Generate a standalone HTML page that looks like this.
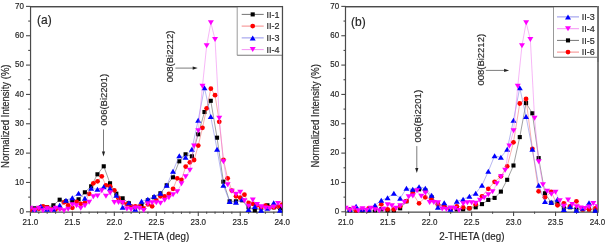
<!DOCTYPE html>
<html><head><meta charset="utf-8"><style>
html,body{margin:0;padding:0;background:#fff;width:606px;height:245px;overflow:hidden}
svg{display:block;font-family:"Liberation Sans",sans-serif;will-change:transform}
</style></head><body>
<svg width="606" height="245" viewBox="0 0 606 245" font-family="Liberation Sans, sans-serif">
<path d="M30.55 212.10L30.55 6.55L282.45 6.55M30.55 212.10L282.45 212.10" fill="none" stroke="#4a4a4a" stroke-width="1.2"/><line x1="282.45" y1="5.95" x2="282.45" y2="212.70" stroke="#4a4a4a" stroke-width="1.2"/>
<line x1="26.00" y1="211.80" x2="30.4" y2="211.80" stroke="#4a4a4a" stroke-width="1.1"/>
<text transform="translate(23.90,214.10) scale(1,1.2)" font-size="8" text-anchor="end" stroke="#333" stroke-width="0.18" fill="#222">0</text>
<line x1="28.20" y1="197.13" x2="30.4" y2="197.13" stroke="#4a4a4a" stroke-width="1.1"/>
<line x1="26.00" y1="182.46" x2="30.4" y2="182.46" stroke="#4a4a4a" stroke-width="1.1"/>
<text transform="translate(23.90,184.76) scale(1,1.2)" font-size="8" text-anchor="end" stroke="#333" stroke-width="0.18" fill="#222">10</text>
<line x1="28.20" y1="167.79" x2="30.4" y2="167.79" stroke="#4a4a4a" stroke-width="1.1"/>
<line x1="26.00" y1="153.11" x2="30.4" y2="153.11" stroke="#4a4a4a" stroke-width="1.1"/>
<text transform="translate(23.90,155.41) scale(1,1.2)" font-size="8" text-anchor="end" stroke="#333" stroke-width="0.18" fill="#222">20</text>
<line x1="28.20" y1="138.44" x2="30.4" y2="138.44" stroke="#4a4a4a" stroke-width="1.1"/>
<line x1="26.00" y1="123.77" x2="30.4" y2="123.77" stroke="#4a4a4a" stroke-width="1.1"/>
<text transform="translate(23.90,126.07) scale(1,1.2)" font-size="8" text-anchor="end" stroke="#333" stroke-width="0.18" fill="#222">30</text>
<line x1="28.20" y1="109.10" x2="30.4" y2="109.10" stroke="#4a4a4a" stroke-width="1.1"/>
<line x1="26.00" y1="94.43" x2="30.4" y2="94.43" stroke="#4a4a4a" stroke-width="1.1"/>
<text transform="translate(23.90,96.73) scale(1,1.2)" font-size="8" text-anchor="end" stroke="#333" stroke-width="0.18" fill="#222">40</text>
<line x1="28.20" y1="79.76" x2="30.4" y2="79.76" stroke="#4a4a4a" stroke-width="1.1"/>
<line x1="26.00" y1="65.09" x2="30.4" y2="65.09" stroke="#4a4a4a" stroke-width="1.1"/>
<text transform="translate(23.90,67.39) scale(1,1.2)" font-size="8" text-anchor="end" stroke="#333" stroke-width="0.18" fill="#222">50</text>
<line x1="28.20" y1="50.41" x2="30.4" y2="50.41" stroke="#4a4a4a" stroke-width="1.1"/>
<line x1="26.00" y1="35.74" x2="30.4" y2="35.74" stroke="#4a4a4a" stroke-width="1.1"/>
<text transform="translate(23.90,38.04) scale(1,1.2)" font-size="8" text-anchor="end" stroke="#333" stroke-width="0.18" fill="#222">60</text>
<line x1="28.20" y1="21.07" x2="30.4" y2="21.07" stroke="#4a4a4a" stroke-width="1.1"/>
<line x1="26.00" y1="6.40" x2="30.4" y2="6.40" stroke="#4a4a4a" stroke-width="1.1"/>
<text transform="translate(23.90,8.70) scale(1,1.2)" font-size="8" text-anchor="end" stroke="#333" stroke-width="0.18" fill="#222">70</text>
<line x1="30.40" y1="211.8" x2="30.40" y2="216.00" stroke="#4a4a4a" stroke-width="1.1"/>
<text transform="translate(30.40,224.90) scale(1,1.2)" font-size="8" text-anchor="middle" stroke="#333" stroke-width="0.18" fill="#222">21.0</text>
<line x1="38.79" y1="211.8" x2="38.79" y2="213.80" stroke="#4a4a4a" stroke-width="1.1"/>
<line x1="47.19" y1="211.8" x2="47.19" y2="213.80" stroke="#4a4a4a" stroke-width="1.1"/>
<line x1="55.58" y1="211.8" x2="55.58" y2="213.80" stroke="#4a4a4a" stroke-width="1.1"/>
<line x1="63.97" y1="211.8" x2="63.97" y2="213.80" stroke="#4a4a4a" stroke-width="1.1"/>
<line x1="72.37" y1="211.8" x2="72.37" y2="216.00" stroke="#4a4a4a" stroke-width="1.1"/>
<text transform="translate(72.37,224.90) scale(1,1.2)" font-size="8" text-anchor="middle" stroke="#333" stroke-width="0.18" fill="#222">21.5</text>
<line x1="80.76" y1="211.8" x2="80.76" y2="213.80" stroke="#4a4a4a" stroke-width="1.1"/>
<line x1="89.15" y1="211.8" x2="89.15" y2="213.80" stroke="#4a4a4a" stroke-width="1.1"/>
<line x1="97.55" y1="211.8" x2="97.55" y2="213.80" stroke="#4a4a4a" stroke-width="1.1"/>
<line x1="105.94" y1="211.8" x2="105.94" y2="213.80" stroke="#4a4a4a" stroke-width="1.1"/>
<line x1="114.33" y1="211.8" x2="114.33" y2="216.00" stroke="#4a4a4a" stroke-width="1.1"/>
<text transform="translate(114.33,224.90) scale(1,1.2)" font-size="8" text-anchor="middle" stroke="#333" stroke-width="0.18" fill="#222">22.0</text>
<line x1="122.73" y1="211.8" x2="122.73" y2="213.80" stroke="#4a4a4a" stroke-width="1.1"/>
<line x1="131.12" y1="211.8" x2="131.12" y2="213.80" stroke="#4a4a4a" stroke-width="1.1"/>
<line x1="139.51" y1="211.8" x2="139.51" y2="213.80" stroke="#4a4a4a" stroke-width="1.1"/>
<line x1="147.91" y1="211.8" x2="147.91" y2="213.80" stroke="#4a4a4a" stroke-width="1.1"/>
<line x1="156.30" y1="211.8" x2="156.30" y2="216.00" stroke="#4a4a4a" stroke-width="1.1"/>
<text transform="translate(156.30,224.90) scale(1,1.2)" font-size="8" text-anchor="middle" stroke="#333" stroke-width="0.18" fill="#222">22.5</text>
<line x1="164.69" y1="211.8" x2="164.69" y2="213.80" stroke="#4a4a4a" stroke-width="1.1"/>
<line x1="173.09" y1="211.8" x2="173.09" y2="213.80" stroke="#4a4a4a" stroke-width="1.1"/>
<line x1="181.48" y1="211.8" x2="181.48" y2="213.80" stroke="#4a4a4a" stroke-width="1.1"/>
<line x1="189.87" y1="211.8" x2="189.87" y2="213.80" stroke="#4a4a4a" stroke-width="1.1"/>
<line x1="198.27" y1="211.8" x2="198.27" y2="216.00" stroke="#4a4a4a" stroke-width="1.1"/>
<text transform="translate(198.27,224.90) scale(1,1.2)" font-size="8" text-anchor="middle" stroke="#333" stroke-width="0.18" fill="#222">23.0</text>
<line x1="206.66" y1="211.8" x2="206.66" y2="213.80" stroke="#4a4a4a" stroke-width="1.1"/>
<line x1="215.05" y1="211.8" x2="215.05" y2="213.80" stroke="#4a4a4a" stroke-width="1.1"/>
<line x1="223.45" y1="211.8" x2="223.45" y2="213.80" stroke="#4a4a4a" stroke-width="1.1"/>
<line x1="231.84" y1="211.8" x2="231.84" y2="213.80" stroke="#4a4a4a" stroke-width="1.1"/>
<line x1="240.23" y1="211.8" x2="240.23" y2="216.00" stroke="#4a4a4a" stroke-width="1.1"/>
<text transform="translate(240.23,224.90) scale(1,1.2)" font-size="8" text-anchor="middle" stroke="#333" stroke-width="0.18" fill="#222">23.5</text>
<line x1="248.63" y1="211.8" x2="248.63" y2="213.80" stroke="#4a4a4a" stroke-width="1.1"/>
<line x1="257.02" y1="211.8" x2="257.02" y2="213.80" stroke="#4a4a4a" stroke-width="1.1"/>
<line x1="265.41" y1="211.8" x2="265.41" y2="213.80" stroke="#4a4a4a" stroke-width="1.1"/>
<line x1="273.81" y1="211.8" x2="273.81" y2="213.80" stroke="#4a4a4a" stroke-width="1.1"/>
<line x1="282.20" y1="211.8" x2="282.20" y2="216.00" stroke="#4a4a4a" stroke-width="1.1"/>
<text transform="translate(282.20,224.90) scale(1,1.2)" font-size="8" text-anchor="middle" stroke="#333" stroke-width="0.18" fill="#222">24.0</text>
<text transform="translate(156.60,239.50) scale(1,1.12)" font-size="9.8" text-anchor="middle" stroke="#333" stroke-width="0.18" fill="#222">2-THETA (deg)</text>
<path d="M345.50 212.10L345.50 6.55L598.00 6.55M345.50 212.10L598.00 212.10" fill="none" stroke="#4a4a4a" stroke-width="1.2"/><line x1="598.00" y1="5.95" x2="598.00" y2="212.70" stroke="#707070" stroke-width="1.8"/>
<line x1="341.30" y1="211.80" x2="345.7" y2="211.80" stroke="#4a4a4a" stroke-width="1.1"/>
<text transform="translate(339.20,214.10) scale(1,1.2)" font-size="8" text-anchor="end" stroke="#333" stroke-width="0.18" fill="#222">0</text>
<line x1="343.50" y1="197.13" x2="345.7" y2="197.13" stroke="#4a4a4a" stroke-width="1.1"/>
<line x1="341.30" y1="182.46" x2="345.7" y2="182.46" stroke="#4a4a4a" stroke-width="1.1"/>
<text transform="translate(339.20,184.76) scale(1,1.2)" font-size="8" text-anchor="end" stroke="#333" stroke-width="0.18" fill="#222">10</text>
<line x1="343.50" y1="167.79" x2="345.7" y2="167.79" stroke="#4a4a4a" stroke-width="1.1"/>
<line x1="341.30" y1="153.11" x2="345.7" y2="153.11" stroke="#4a4a4a" stroke-width="1.1"/>
<text transform="translate(339.20,155.41) scale(1,1.2)" font-size="8" text-anchor="end" stroke="#333" stroke-width="0.18" fill="#222">20</text>
<line x1="343.50" y1="138.44" x2="345.7" y2="138.44" stroke="#4a4a4a" stroke-width="1.1"/>
<line x1="341.30" y1="123.77" x2="345.7" y2="123.77" stroke="#4a4a4a" stroke-width="1.1"/>
<text transform="translate(339.20,126.07) scale(1,1.2)" font-size="8" text-anchor="end" stroke="#333" stroke-width="0.18" fill="#222">30</text>
<line x1="343.50" y1="109.10" x2="345.7" y2="109.10" stroke="#4a4a4a" stroke-width="1.1"/>
<line x1="341.30" y1="94.43" x2="345.7" y2="94.43" stroke="#4a4a4a" stroke-width="1.1"/>
<text transform="translate(339.20,96.73) scale(1,1.2)" font-size="8" text-anchor="end" stroke="#333" stroke-width="0.18" fill="#222">40</text>
<line x1="343.50" y1="79.76" x2="345.7" y2="79.76" stroke="#4a4a4a" stroke-width="1.1"/>
<line x1="341.30" y1="65.09" x2="345.7" y2="65.09" stroke="#4a4a4a" stroke-width="1.1"/>
<text transform="translate(339.20,67.39) scale(1,1.2)" font-size="8" text-anchor="end" stroke="#333" stroke-width="0.18" fill="#222">50</text>
<line x1="343.50" y1="50.41" x2="345.7" y2="50.41" stroke="#4a4a4a" stroke-width="1.1"/>
<line x1="341.30" y1="35.74" x2="345.7" y2="35.74" stroke="#4a4a4a" stroke-width="1.1"/>
<text transform="translate(339.20,38.04) scale(1,1.2)" font-size="8" text-anchor="end" stroke="#333" stroke-width="0.18" fill="#222">60</text>
<line x1="343.50" y1="21.07" x2="345.7" y2="21.07" stroke="#4a4a4a" stroke-width="1.1"/>
<line x1="341.30" y1="6.40" x2="345.7" y2="6.40" stroke="#4a4a4a" stroke-width="1.1"/>
<text transform="translate(339.20,8.70) scale(1,1.2)" font-size="8" text-anchor="end" stroke="#333" stroke-width="0.18" fill="#222">70</text>
<line x1="345.70" y1="211.8" x2="345.70" y2="216.00" stroke="#4a4a4a" stroke-width="1.1"/>
<text transform="translate(345.70,224.90) scale(1,1.2)" font-size="8" text-anchor="middle" stroke="#333" stroke-width="0.18" fill="#222">21.0</text>
<line x1="366.68" y1="211.8" x2="366.68" y2="213.80" stroke="#4a4a4a" stroke-width="1.1"/>
<line x1="387.67" y1="211.8" x2="387.67" y2="216.00" stroke="#4a4a4a" stroke-width="1.1"/>
<text transform="translate(387.67,224.90) scale(1,1.2)" font-size="8" text-anchor="middle" stroke="#333" stroke-width="0.18" fill="#222">21.5</text>
<line x1="408.65" y1="211.8" x2="408.65" y2="213.80" stroke="#4a4a4a" stroke-width="1.1"/>
<line x1="429.63" y1="211.8" x2="429.63" y2="216.00" stroke="#4a4a4a" stroke-width="1.1"/>
<text transform="translate(429.63,224.90) scale(1,1.2)" font-size="8" text-anchor="middle" stroke="#333" stroke-width="0.18" fill="#222">22.0</text>
<line x1="450.62" y1="211.8" x2="450.62" y2="213.80" stroke="#4a4a4a" stroke-width="1.1"/>
<line x1="471.60" y1="211.8" x2="471.60" y2="216.00" stroke="#4a4a4a" stroke-width="1.1"/>
<text transform="translate(471.60,224.90) scale(1,1.2)" font-size="8" text-anchor="middle" stroke="#333" stroke-width="0.18" fill="#222">22.5</text>
<line x1="492.58" y1="211.8" x2="492.58" y2="213.80" stroke="#4a4a4a" stroke-width="1.1"/>
<line x1="513.57" y1="211.8" x2="513.57" y2="216.00" stroke="#4a4a4a" stroke-width="1.1"/>
<text transform="translate(513.57,224.90) scale(1,1.2)" font-size="8" text-anchor="middle" stroke="#333" stroke-width="0.18" fill="#222">23.0</text>
<line x1="534.55" y1="211.8" x2="534.55" y2="213.80" stroke="#4a4a4a" stroke-width="1.1"/>
<line x1="555.53" y1="211.8" x2="555.53" y2="216.00" stroke="#4a4a4a" stroke-width="1.1"/>
<text transform="translate(555.53,224.90) scale(1,1.2)" font-size="8" text-anchor="middle" stroke="#333" stroke-width="0.18" fill="#222">23.5</text>
<line x1="576.52" y1="211.8" x2="576.52" y2="213.80" stroke="#4a4a4a" stroke-width="1.1"/>
<line x1="597.50" y1="211.8" x2="597.50" y2="216.00" stroke="#4a4a4a" stroke-width="1.1"/>
<text transform="translate(597.50,224.90) scale(1,1.2)" font-size="8" text-anchor="middle" stroke="#333" stroke-width="0.18" fill="#222">24.0</text>
<text transform="translate(471.90,239.50) scale(1,1.12)" font-size="9.8" text-anchor="middle" stroke="#333" stroke-width="0.18" fill="#222">2-THETA (deg)</text>
<text transform="translate(9.40,116.20) rotate(-90) scale(1,1.12)" font-size="9.5" text-anchor="middle" stroke="#333" stroke-width="0.18" fill="#222">Normalized Intensity (%)</text>
<text transform="translate(318.80,115.90) rotate(-90) scale(1,1.12)" font-size="9.5" text-anchor="middle" stroke="#333" stroke-width="0.18" fill="#222">Normalized Intensity (%)</text>
<defs><clipPath id="ca"><rect x="30.4" y="6.4" width="251.80" height="209.40"/></clipPath><clipPath id="cb"><rect x="345.7" y="6.4" width="251.80" height="209.40"/></clipPath></defs>
<g clip-path="url(#ca)"><path d="M34.50 208.30 L40.80 207.30 L47.09 207.30 L53.38 205.30 L59.68 199.70 L65.97 201.30 L72.27 201.10 L78.56 199.30 L84.86 192.30 L91.16 186.30 L97.45 174.30 L103.75 166.30 L110.04 183.30 L116.33 193.70 L122.63 198.30 L128.93 203.30 L135.22 207.30 L141.51 205.30 L147.81 200.30 L154.11 197.30 L160.40 193.30 L166.69 185.30 L172.99 177.30 L179.28 161.30 L185.58 154.30 L191.88 156.30 L198.17 134.30 L204.47 112.00 L210.76 100.80 L217.06 137.70 L223.35 181.70 L229.65 201.30 L235.94 201.30 L242.23 200.30 L248.53 207.30 L254.82 210.30 L261.12 208.30 L267.41 205.30 L273.71 207.30 L280.00 208.30" fill="none" stroke="#505050" stroke-width="0.55"/>
<rect x="32.45" y="206.25" width="4.1" height="4.1" fill="#000000"/>
<rect x="38.75" y="205.25" width="4.1" height="4.1" fill="#000000"/>
<rect x="45.04" y="205.25" width="4.1" height="4.1" fill="#000000"/>
<rect x="51.34" y="203.25" width="4.1" height="4.1" fill="#000000"/>
<rect x="57.63" y="197.65" width="4.1" height="4.1" fill="#000000"/>
<rect x="63.92" y="199.25" width="4.1" height="4.1" fill="#000000"/>
<rect x="70.22" y="199.05" width="4.1" height="4.1" fill="#000000"/>
<rect x="76.52" y="197.25" width="4.1" height="4.1" fill="#000000"/>
<rect x="82.81" y="190.25" width="4.1" height="4.1" fill="#000000"/>
<rect x="89.11" y="184.25" width="4.1" height="4.1" fill="#000000"/>
<rect x="95.40" y="172.25" width="4.1" height="4.1" fill="#000000"/>
<rect x="101.70" y="164.25" width="4.1" height="4.1" fill="#000000"/>
<rect x="107.99" y="181.25" width="4.1" height="4.1" fill="#000000"/>
<rect x="114.28" y="191.65" width="4.1" height="4.1" fill="#000000"/>
<rect x="120.58" y="196.25" width="4.1" height="4.1" fill="#000000"/>
<rect x="126.88" y="201.25" width="4.1" height="4.1" fill="#000000"/>
<rect x="133.17" y="205.25" width="4.1" height="4.1" fill="#000000"/>
<rect x="139.46" y="203.25" width="4.1" height="4.1" fill="#000000"/>
<rect x="145.76" y="198.25" width="4.1" height="4.1" fill="#000000"/>
<rect x="152.06" y="195.25" width="4.1" height="4.1" fill="#000000"/>
<rect x="158.35" y="191.25" width="4.1" height="4.1" fill="#000000"/>
<rect x="164.64" y="183.25" width="4.1" height="4.1" fill="#000000"/>
<rect x="170.94" y="175.25" width="4.1" height="4.1" fill="#000000"/>
<rect x="177.23" y="159.25" width="4.1" height="4.1" fill="#000000"/>
<rect x="183.53" y="152.25" width="4.1" height="4.1" fill="#000000"/>
<rect x="189.82" y="154.25" width="4.1" height="4.1" fill="#000000"/>
<rect x="196.12" y="132.25" width="4.1" height="4.1" fill="#000000"/>
<rect x="202.41" y="109.95" width="4.1" height="4.1" fill="#000000"/>
<rect x="208.71" y="98.75" width="4.1" height="4.1" fill="#000000"/>
<rect x="215.00" y="135.65" width="4.1" height="4.1" fill="#000000"/>
<rect x="221.30" y="179.65" width="4.1" height="4.1" fill="#000000"/>
<rect x="227.59" y="199.25" width="4.1" height="4.1" fill="#000000"/>
<rect x="233.89" y="199.25" width="4.1" height="4.1" fill="#000000"/>
<rect x="240.18" y="198.25" width="4.1" height="4.1" fill="#000000"/>
<rect x="246.48" y="205.25" width="4.1" height="4.1" fill="#000000"/>
<rect x="252.77" y="208.25" width="4.1" height="4.1" fill="#000000"/>
<rect x="259.07" y="206.25" width="4.1" height="4.1" fill="#000000"/>
<rect x="265.36" y="203.25" width="4.1" height="4.1" fill="#000000"/>
<rect x="271.66" y="205.25" width="4.1" height="4.1" fill="#000000"/>
<rect x="277.95" y="206.25" width="4.1" height="4.1" fill="#000000"/>
<path d="M30.40 209.80 L34.60 209.30 L38.79 208.80 L42.99 206.30 L47.19 207.30 L51.38 209.30 L55.58 209.30 L59.78 208.30 L63.97 202.30 L68.17 205.30 L72.37 207.80 L76.56 201.80 L80.76 203.80 L84.96 202.80 L89.15 193.80 L93.35 183.30 L97.55 181.30 L101.74 176.30 L105.94 185.30 L110.14 186.30 L114.33 190.30 L118.53 198.30 L122.73 202.30 L126.92 204.30 L131.12 206.30 L135.32 206.30 L139.51 206.30 L143.71 208.30 L147.91 204.30 L152.10 206.30 L156.30 200.30 L160.50 196.30 L164.69 196.30 L168.89 193.80 L173.09 188.80 L177.28 178.30 L181.48 179.80 L185.68 166.60 L189.87 162.30 L194.07 160.00 L198.27 145.60 L202.46 127.80 L206.66 108.30 L210.86 88.70 L215.05 95.20 L219.25 121.80 L223.45 159.80 L227.64 178.30 L231.84 190.60 L236.04 196.30 L240.23 197.70 L244.43 194.70 L248.63 203.00 L252.82 203.80 L257.02 205.30 L261.22 207.60 L265.41 205.60 L269.61 207.30 L273.81 207.30 L278.00 206.60 L282.20 204.70" fill="none" stroke="#f26a6a" stroke-width="0.55"/>
<circle cx="30.40" cy="209.80" r="2.4" fill="#ff0000"/>
<circle cx="34.60" cy="209.30" r="2.4" fill="#ff0000"/>
<circle cx="38.79" cy="208.80" r="2.4" fill="#ff0000"/>
<circle cx="42.99" cy="206.30" r="2.4" fill="#ff0000"/>
<circle cx="47.19" cy="207.30" r="2.4" fill="#ff0000"/>
<circle cx="51.38" cy="209.30" r="2.4" fill="#ff0000"/>
<circle cx="55.58" cy="209.30" r="2.4" fill="#ff0000"/>
<circle cx="59.78" cy="208.30" r="2.4" fill="#ff0000"/>
<circle cx="63.97" cy="202.30" r="2.4" fill="#ff0000"/>
<circle cx="68.17" cy="205.30" r="2.4" fill="#ff0000"/>
<circle cx="72.37" cy="207.80" r="2.4" fill="#ff0000"/>
<circle cx="76.56" cy="201.80" r="2.4" fill="#ff0000"/>
<circle cx="80.76" cy="203.80" r="2.4" fill="#ff0000"/>
<circle cx="84.96" cy="202.80" r="2.4" fill="#ff0000"/>
<circle cx="89.15" cy="193.80" r="2.4" fill="#ff0000"/>
<circle cx="93.35" cy="183.30" r="2.4" fill="#ff0000"/>
<circle cx="97.55" cy="181.30" r="2.4" fill="#ff0000"/>
<circle cx="101.74" cy="176.30" r="2.4" fill="#ff0000"/>
<circle cx="105.94" cy="185.30" r="2.4" fill="#ff0000"/>
<circle cx="110.14" cy="186.30" r="2.4" fill="#ff0000"/>
<circle cx="114.33" cy="190.30" r="2.4" fill="#ff0000"/>
<circle cx="118.53" cy="198.30" r="2.4" fill="#ff0000"/>
<circle cx="122.73" cy="202.30" r="2.4" fill="#ff0000"/>
<circle cx="126.92" cy="204.30" r="2.4" fill="#ff0000"/>
<circle cx="131.12" cy="206.30" r="2.4" fill="#ff0000"/>
<circle cx="135.32" cy="206.30" r="2.4" fill="#ff0000"/>
<circle cx="139.51" cy="206.30" r="2.4" fill="#ff0000"/>
<circle cx="143.71" cy="208.30" r="2.4" fill="#ff0000"/>
<circle cx="147.91" cy="204.30" r="2.4" fill="#ff0000"/>
<circle cx="152.10" cy="206.30" r="2.4" fill="#ff0000"/>
<circle cx="156.30" cy="200.30" r="2.4" fill="#ff0000"/>
<circle cx="160.50" cy="196.30" r="2.4" fill="#ff0000"/>
<circle cx="164.69" cy="196.30" r="2.4" fill="#ff0000"/>
<circle cx="168.89" cy="193.80" r="2.4" fill="#ff0000"/>
<circle cx="173.09" cy="188.80" r="2.4" fill="#ff0000"/>
<circle cx="177.28" cy="178.30" r="2.4" fill="#ff0000"/>
<circle cx="181.48" cy="179.80" r="2.4" fill="#ff0000"/>
<circle cx="185.68" cy="166.60" r="2.4" fill="#ff0000"/>
<circle cx="189.87" cy="162.30" r="2.4" fill="#ff0000"/>
<circle cx="194.07" cy="160.00" r="2.4" fill="#ff0000"/>
<circle cx="198.27" cy="145.60" r="2.4" fill="#ff0000"/>
<circle cx="202.46" cy="127.80" r="2.4" fill="#ff0000"/>
<circle cx="206.66" cy="108.30" r="2.4" fill="#ff0000"/>
<circle cx="210.86" cy="88.70" r="2.4" fill="#ff0000"/>
<circle cx="215.05" cy="95.20" r="2.4" fill="#ff0000"/>
<circle cx="219.25" cy="121.80" r="2.4" fill="#ff0000"/>
<circle cx="223.45" cy="159.80" r="2.4" fill="#ff0000"/>
<circle cx="227.64" cy="178.30" r="2.4" fill="#ff0000"/>
<circle cx="231.84" cy="190.60" r="2.4" fill="#ff0000"/>
<circle cx="236.04" cy="196.30" r="2.4" fill="#ff0000"/>
<circle cx="240.23" cy="197.70" r="2.4" fill="#ff0000"/>
<circle cx="244.43" cy="194.70" r="2.4" fill="#ff0000"/>
<circle cx="248.63" cy="203.00" r="2.4" fill="#ff0000"/>
<circle cx="252.82" cy="203.80" r="2.4" fill="#ff0000"/>
<circle cx="257.02" cy="205.30" r="2.4" fill="#ff0000"/>
<circle cx="261.22" cy="207.60" r="2.4" fill="#ff0000"/>
<circle cx="265.41" cy="205.60" r="2.4" fill="#ff0000"/>
<circle cx="269.61" cy="207.30" r="2.4" fill="#ff0000"/>
<circle cx="273.81" cy="207.30" r="2.4" fill="#ff0000"/>
<circle cx="278.00" cy="206.60" r="2.4" fill="#ff0000"/>
<circle cx="282.20" cy="204.70" r="2.4" fill="#ff0000"/>
<path d="M34.50 209.30 L40.80 206.30 L47.09 209.30 L53.38 209.30 L59.68 205.30 L65.97 200.30 L72.27 197.80 L78.56 193.30 L84.86 198.30 L91.16 188.30 L97.45 189.30 L103.75 186.80 L110.04 188.30 L116.33 195.30 L122.63 207.30 L128.93 202.80 L135.22 209.30 L141.51 201.30 L147.81 199.30 L154.11 196.30 L160.40 193.30 L166.69 185.30 L172.99 171.30 L179.28 155.80 L185.58 157.30 L191.88 149.30 L198.17 120.30 L204.47 87.70 L210.76 116.60 L217.06 149.30 L223.35 185.30 L229.65 201.60 L235.94 202.30 L242.23 199.30 L248.53 209.60 L254.82 206.60 L261.12 210.30 L267.41 208.30 L273.71 202.80 L280.00 210.30" fill="none" stroke="#7a7ae6" stroke-width="0.55"/>
<path d="M34.50 206.80L37.50 211.80L31.50 211.80Z" fill="#0000ff"/>
<path d="M40.80 203.80L43.80 208.80L37.80 208.80Z" fill="#0000ff"/>
<path d="M47.09 206.80L50.09 211.80L44.09 211.80Z" fill="#0000ff"/>
<path d="M53.38 206.80L56.38 211.80L50.38 211.80Z" fill="#0000ff"/>
<path d="M59.68 202.80L62.68 207.80L56.68 207.80Z" fill="#0000ff"/>
<path d="M65.97 197.80L68.97 202.80L62.97 202.80Z" fill="#0000ff"/>
<path d="M72.27 195.30L75.27 200.30L69.27 200.30Z" fill="#0000ff"/>
<path d="M78.56 190.80L81.56 195.80L75.56 195.80Z" fill="#0000ff"/>
<path d="M84.86 195.80L87.86 200.80L81.86 200.80Z" fill="#0000ff"/>
<path d="M91.16 185.80L94.16 190.80L88.16 190.80Z" fill="#0000ff"/>
<path d="M97.45 186.80L100.45 191.80L94.45 191.80Z" fill="#0000ff"/>
<path d="M103.75 184.30L106.75 189.30L100.75 189.30Z" fill="#0000ff"/>
<path d="M110.04 185.80L113.04 190.80L107.04 190.80Z" fill="#0000ff"/>
<path d="M116.33 192.80L119.33 197.80L113.33 197.80Z" fill="#0000ff"/>
<path d="M122.63 204.80L125.63 209.80L119.63 209.80Z" fill="#0000ff"/>
<path d="M128.93 200.30L131.93 205.30L125.93 205.30Z" fill="#0000ff"/>
<path d="M135.22 206.80L138.22 211.80L132.22 211.80Z" fill="#0000ff"/>
<path d="M141.51 198.80L144.51 203.80L138.51 203.80Z" fill="#0000ff"/>
<path d="M147.81 196.80L150.81 201.80L144.81 201.80Z" fill="#0000ff"/>
<path d="M154.11 193.80L157.11 198.80L151.11 198.80Z" fill="#0000ff"/>
<path d="M160.40 190.80L163.40 195.80L157.40 195.80Z" fill="#0000ff"/>
<path d="M166.69 182.80L169.69 187.80L163.69 187.80Z" fill="#0000ff"/>
<path d="M172.99 168.80L175.99 173.80L169.99 173.80Z" fill="#0000ff"/>
<path d="M179.28 153.30L182.28 158.30L176.28 158.30Z" fill="#0000ff"/>
<path d="M185.58 154.80L188.58 159.80L182.58 159.80Z" fill="#0000ff"/>
<path d="M191.88 146.80L194.88 151.80L188.88 151.80Z" fill="#0000ff"/>
<path d="M198.17 117.80L201.17 122.80L195.17 122.80Z" fill="#0000ff"/>
<path d="M204.47 85.20L207.47 90.20L201.47 90.20Z" fill="#0000ff"/>
<path d="M210.76 114.10L213.76 119.10L207.76 119.10Z" fill="#0000ff"/>
<path d="M217.06 146.80L220.06 151.80L214.06 151.80Z" fill="#0000ff"/>
<path d="M223.35 182.80L226.35 187.80L220.35 187.80Z" fill="#0000ff"/>
<path d="M229.65 199.10L232.65 204.10L226.65 204.10Z" fill="#0000ff"/>
<path d="M235.94 199.80L238.94 204.80L232.94 204.80Z" fill="#0000ff"/>
<path d="M242.23 196.80L245.23 201.80L239.23 201.80Z" fill="#0000ff"/>
<path d="M248.53 207.10L251.53 212.10L245.53 212.10Z" fill="#0000ff"/>
<path d="M254.82 204.10L257.82 209.10L251.82 209.10Z" fill="#0000ff"/>
<path d="M261.12 207.80L264.12 212.80L258.12 212.80Z" fill="#0000ff"/>
<path d="M267.41 205.80L270.41 210.80L264.41 210.80Z" fill="#0000ff"/>
<path d="M273.71 200.30L276.71 205.30L270.71 205.30Z" fill="#0000ff"/>
<path d="M280.00 207.80L283.00 212.80L277.00 212.80Z" fill="#0000ff"/>
<path d="M30.40 208.30 L34.60 210.30 L38.79 208.30 L42.99 210.80 L47.19 208.80 L51.38 210.30 L55.58 208.30 L59.78 209.80 L63.97 210.80 L68.17 209.30 L72.37 204.80 L76.56 205.80 L80.76 208.30 L84.96 205.80 L89.15 202.20 L93.35 196.80 L97.55 196.10 L101.74 190.80 L105.94 196.20 L110.14 193.00 L114.33 202.60 L118.53 202.60 L122.73 202.80 L126.92 209.10 L131.12 209.60 L135.32 208.10 L139.51 208.60 L143.71 210.60 L147.91 203.70 L152.10 202.70 L156.30 202.70 L160.50 203.20 L164.69 200.20 L168.89 197.70 L173.09 194.80 L177.28 191.80 L181.48 183.80 L185.68 176.80 L189.87 170.30 L194.07 146.10 L198.27 130.80 L202.46 86.20 L206.66 45.70 L210.86 22.70 L215.05 39.50 L219.25 118.20 L223.45 161.80 L227.64 184.80 L231.84 191.30 L236.04 194.30 L240.23 192.20 L244.43 200.70 L248.63 206.30 L252.82 200.00 L257.02 204.60 L261.22 206.80 L265.41 208.10 L269.61 208.60 L273.81 207.10 L278.00 203.40 L282.20 206.80" fill="none" stroke="#f07af0" stroke-width="0.55"/>
<path d="M27.40 205.80L33.40 205.80L30.40 210.80Z" fill="#ff00ff"/>
<path d="M31.60 207.80L37.60 207.80L34.60 212.80Z" fill="#ff00ff"/>
<path d="M35.79 205.80L41.79 205.80L38.79 210.80Z" fill="#ff00ff"/>
<path d="M39.99 208.30L45.99 208.30L42.99 213.30Z" fill="#ff00ff"/>
<path d="M44.19 206.30L50.19 206.30L47.19 211.30Z" fill="#ff00ff"/>
<path d="M48.38 207.80L54.38 207.80L51.38 212.80Z" fill="#ff00ff"/>
<path d="M52.58 205.80L58.58 205.80L55.58 210.80Z" fill="#ff00ff"/>
<path d="M56.78 207.30L62.78 207.30L59.78 212.30Z" fill="#ff00ff"/>
<path d="M60.97 208.30L66.97 208.30L63.97 213.30Z" fill="#ff00ff"/>
<path d="M65.17 206.80L71.17 206.80L68.17 211.80Z" fill="#ff00ff"/>
<path d="M69.37 202.30L75.37 202.30L72.37 207.30Z" fill="#ff00ff"/>
<path d="M73.56 203.30L79.56 203.30L76.56 208.30Z" fill="#ff00ff"/>
<path d="M77.76 205.80L83.76 205.80L80.76 210.80Z" fill="#ff00ff"/>
<path d="M81.96 203.30L87.96 203.30L84.96 208.30Z" fill="#ff00ff"/>
<path d="M86.15 199.70L92.15 199.70L89.15 204.70Z" fill="#ff00ff"/>
<path d="M90.35 194.30L96.35 194.30L93.35 199.30Z" fill="#ff00ff"/>
<path d="M94.55 193.60L100.55 193.60L97.55 198.60Z" fill="#ff00ff"/>
<path d="M98.74 188.30L104.74 188.30L101.74 193.30Z" fill="#ff00ff"/>
<path d="M102.94 193.70L108.94 193.70L105.94 198.70Z" fill="#ff00ff"/>
<path d="M107.14 190.50L113.14 190.50L110.14 195.50Z" fill="#ff00ff"/>
<path d="M111.33 200.10L117.33 200.10L114.33 205.10Z" fill="#ff00ff"/>
<path d="M115.53 200.10L121.53 200.10L118.53 205.10Z" fill="#ff00ff"/>
<path d="M119.73 200.30L125.73 200.30L122.73 205.30Z" fill="#ff00ff"/>
<path d="M123.92 206.60L129.92 206.60L126.92 211.60Z" fill="#ff00ff"/>
<path d="M128.12 207.10L134.12 207.10L131.12 212.10Z" fill="#ff00ff"/>
<path d="M132.32 205.60L138.32 205.60L135.32 210.60Z" fill="#ff00ff"/>
<path d="M136.51 206.10L142.51 206.10L139.51 211.10Z" fill="#ff00ff"/>
<path d="M140.71 208.10L146.71 208.10L143.71 213.10Z" fill="#ff00ff"/>
<path d="M144.91 201.20L150.91 201.20L147.91 206.20Z" fill="#ff00ff"/>
<path d="M149.10 200.20L155.10 200.20L152.10 205.20Z" fill="#ff00ff"/>
<path d="M153.30 200.20L159.30 200.20L156.30 205.20Z" fill="#ff00ff"/>
<path d="M157.50 200.70L163.50 200.70L160.50 205.70Z" fill="#ff00ff"/>
<path d="M161.69 197.70L167.69 197.70L164.69 202.70Z" fill="#ff00ff"/>
<path d="M165.89 195.20L171.89 195.20L168.89 200.20Z" fill="#ff00ff"/>
<path d="M170.09 192.30L176.09 192.30L173.09 197.30Z" fill="#ff00ff"/>
<path d="M174.28 189.30L180.28 189.30L177.28 194.30Z" fill="#ff00ff"/>
<path d="M178.48 181.30L184.48 181.30L181.48 186.30Z" fill="#ff00ff"/>
<path d="M182.68 174.30L188.68 174.30L185.68 179.30Z" fill="#ff00ff"/>
<path d="M186.87 167.80L192.87 167.80L189.87 172.80Z" fill="#ff00ff"/>
<path d="M191.07 143.60L197.07 143.60L194.07 148.60Z" fill="#ff00ff"/>
<path d="M195.27 128.30L201.27 128.30L198.27 133.30Z" fill="#ff00ff"/>
<path d="M199.46 83.70L205.46 83.70L202.46 88.70Z" fill="#ff00ff"/>
<path d="M203.66 43.20L209.66 43.20L206.66 48.20Z" fill="#ff00ff"/>
<path d="M207.86 20.20L213.86 20.20L210.86 25.20Z" fill="#ff00ff"/>
<path d="M212.05 37.00L218.05 37.00L215.05 42.00Z" fill="#ff00ff"/>
<path d="M216.25 115.70L222.25 115.70L219.25 120.70Z" fill="#ff00ff"/>
<path d="M220.45 159.30L226.45 159.30L223.45 164.30Z" fill="#ff00ff"/>
<path d="M224.64 182.30L230.64 182.30L227.64 187.30Z" fill="#ff00ff"/>
<path d="M228.84 188.80L234.84 188.80L231.84 193.80Z" fill="#ff00ff"/>
<path d="M233.04 191.80L239.04 191.80L236.04 196.80Z" fill="#ff00ff"/>
<path d="M237.23 189.70L243.23 189.70L240.23 194.70Z" fill="#ff00ff"/>
<path d="M241.43 198.20L247.43 198.20L244.43 203.20Z" fill="#ff00ff"/>
<path d="M245.63 203.80L251.63 203.80L248.63 208.80Z" fill="#ff00ff"/>
<path d="M249.82 197.50L255.82 197.50L252.82 202.50Z" fill="#ff00ff"/>
<path d="M254.02 202.10L260.02 202.10L257.02 207.10Z" fill="#ff00ff"/>
<path d="M258.22 204.30L264.22 204.30L261.22 209.30Z" fill="#ff00ff"/>
<path d="M262.41 205.60L268.41 205.60L265.41 210.60Z" fill="#ff00ff"/>
<path d="M266.61 206.10L272.61 206.10L269.61 211.10Z" fill="#ff00ff"/>
<path d="M270.81 204.60L276.81 204.60L273.81 209.60Z" fill="#ff00ff"/>
<path d="M275.00 200.90L281.00 200.90L278.00 205.90Z" fill="#ff00ff"/>
<path d="M279.20 204.30L285.20 204.30L282.20 209.30Z" fill="#ff00ff"/></g>
<g clip-path="url(#cb)"><path d="M349.80 210.30 L356.10 210.30 L362.39 210.30 L368.69 210.30 L374.98 210.30 L381.28 209.30 L387.57 210.30 L393.87 210.30 L400.16 208.30 L406.46 201.30 L412.75 191.30 L419.05 189.30 L425.34 190.30 L431.63 197.30 L437.93 204.30 L444.23 206.30 L450.52 208.30 L456.81 209.30 L463.11 209.30 L469.41 208.30 L475.70 207.30 L482.00 204.10 L488.29 199.90 L494.59 197.90 L500.88 191.60 L507.18 179.80 L513.47 165.50 L519.76 137.10 L526.06 103.10 L532.36 113.30 L538.65 158.10 L544.95 193.30 L551.24 202.80 L557.53 203.30 L563.83 208.30 L570.12 207.30 L576.42 209.30 L582.72 209.30 L589.01 209.30 L595.31 210.30" fill="none" stroke="#505050" stroke-width="0.55"/>
<rect x="347.75" y="208.25" width="4.1" height="4.1" fill="#000000"/>
<rect x="354.05" y="208.25" width="4.1" height="4.1" fill="#000000"/>
<rect x="360.34" y="208.25" width="4.1" height="4.1" fill="#000000"/>
<rect x="366.63" y="208.25" width="4.1" height="4.1" fill="#000000"/>
<rect x="372.93" y="208.25" width="4.1" height="4.1" fill="#000000"/>
<rect x="379.23" y="207.25" width="4.1" height="4.1" fill="#000000"/>
<rect x="385.52" y="208.25" width="4.1" height="4.1" fill="#000000"/>
<rect x="391.81" y="208.25" width="4.1" height="4.1" fill="#000000"/>
<rect x="398.11" y="206.25" width="4.1" height="4.1" fill="#000000"/>
<rect x="404.41" y="199.25" width="4.1" height="4.1" fill="#000000"/>
<rect x="410.70" y="189.25" width="4.1" height="4.1" fill="#000000"/>
<rect x="417.00" y="187.25" width="4.1" height="4.1" fill="#000000"/>
<rect x="423.29" y="188.25" width="4.1" height="4.1" fill="#000000"/>
<rect x="429.58" y="195.25" width="4.1" height="4.1" fill="#000000"/>
<rect x="435.88" y="202.25" width="4.1" height="4.1" fill="#000000"/>
<rect x="442.18" y="204.25" width="4.1" height="4.1" fill="#000000"/>
<rect x="448.47" y="206.25" width="4.1" height="4.1" fill="#000000"/>
<rect x="454.76" y="207.25" width="4.1" height="4.1" fill="#000000"/>
<rect x="461.06" y="207.25" width="4.1" height="4.1" fill="#000000"/>
<rect x="467.36" y="206.25" width="4.1" height="4.1" fill="#000000"/>
<rect x="473.65" y="205.25" width="4.1" height="4.1" fill="#000000"/>
<rect x="479.94" y="202.05" width="4.1" height="4.1" fill="#000000"/>
<rect x="486.24" y="197.85" width="4.1" height="4.1" fill="#000000"/>
<rect x="492.54" y="195.85" width="4.1" height="4.1" fill="#000000"/>
<rect x="498.83" y="189.55" width="4.1" height="4.1" fill="#000000"/>
<rect x="505.12" y="177.75" width="4.1" height="4.1" fill="#000000"/>
<rect x="511.42" y="163.45" width="4.1" height="4.1" fill="#000000"/>
<rect x="517.72" y="135.05" width="4.1" height="4.1" fill="#000000"/>
<rect x="524.01" y="101.05" width="4.1" height="4.1" fill="#000000"/>
<rect x="530.31" y="111.25" width="4.1" height="4.1" fill="#000000"/>
<rect x="536.60" y="156.05" width="4.1" height="4.1" fill="#000000"/>
<rect x="542.90" y="191.25" width="4.1" height="4.1" fill="#000000"/>
<rect x="549.19" y="200.75" width="4.1" height="4.1" fill="#000000"/>
<rect x="555.49" y="201.25" width="4.1" height="4.1" fill="#000000"/>
<rect x="561.78" y="206.25" width="4.1" height="4.1" fill="#000000"/>
<rect x="568.08" y="205.25" width="4.1" height="4.1" fill="#000000"/>
<rect x="574.37" y="207.25" width="4.1" height="4.1" fill="#000000"/>
<rect x="580.67" y="207.25" width="4.1" height="4.1" fill="#000000"/>
<rect x="586.96" y="207.25" width="4.1" height="4.1" fill="#000000"/>
<rect x="593.26" y="208.25" width="4.1" height="4.1" fill="#000000"/>
<path d="M349.80 209.30 L356.10 210.30 L362.39 209.30 L368.69 208.30 L374.98 207.30 L381.28 204.30 L387.57 209.30 L393.87 209.30 L400.16 206.30 L406.46 201.10 L412.75 193.60 L419.05 203.30 L425.34 197.30 L431.63 199.30 L437.93 204.30 L444.23 206.30 L450.52 209.30 L456.81 206.30 L463.11 207.30 L469.41 208.30 L475.70 204.30 L482.00 196.30 L488.29 188.80 L494.59 181.80 L500.88 176.30 L507.18 166.30 L513.47 142.30 L519.76 103.50 L526.06 99.00 L532.36 148.80 L538.65 191.30 L544.95 197.30 L551.24 192.00 L557.53 205.30 L563.83 203.30 L570.12 206.30 L576.42 201.30 L582.72 209.30 L589.01 209.30 L595.31 208.30" fill="none" stroke="#f26a6a" stroke-width="0.55"/>
<circle cx="349.80" cy="209.30" r="2.4" fill="#ff0000"/>
<circle cx="356.10" cy="210.30" r="2.4" fill="#ff0000"/>
<circle cx="362.39" cy="209.30" r="2.4" fill="#ff0000"/>
<circle cx="368.69" cy="208.30" r="2.4" fill="#ff0000"/>
<circle cx="374.98" cy="207.30" r="2.4" fill="#ff0000"/>
<circle cx="381.28" cy="204.30" r="2.4" fill="#ff0000"/>
<circle cx="387.57" cy="209.30" r="2.4" fill="#ff0000"/>
<circle cx="393.87" cy="209.30" r="2.4" fill="#ff0000"/>
<circle cx="400.16" cy="206.30" r="2.4" fill="#ff0000"/>
<circle cx="406.46" cy="201.10" r="2.4" fill="#ff0000"/>
<circle cx="412.75" cy="193.60" r="2.4" fill="#ff0000"/>
<circle cx="419.05" cy="203.30" r="2.4" fill="#ff0000"/>
<circle cx="425.34" cy="197.30" r="2.4" fill="#ff0000"/>
<circle cx="431.63" cy="199.30" r="2.4" fill="#ff0000"/>
<circle cx="437.93" cy="204.30" r="2.4" fill="#ff0000"/>
<circle cx="444.23" cy="206.30" r="2.4" fill="#ff0000"/>
<circle cx="450.52" cy="209.30" r="2.4" fill="#ff0000"/>
<circle cx="456.81" cy="206.30" r="2.4" fill="#ff0000"/>
<circle cx="463.11" cy="207.30" r="2.4" fill="#ff0000"/>
<circle cx="469.41" cy="208.30" r="2.4" fill="#ff0000"/>
<circle cx="475.70" cy="204.30" r="2.4" fill="#ff0000"/>
<circle cx="482.00" cy="196.30" r="2.4" fill="#ff0000"/>
<circle cx="488.29" cy="188.80" r="2.4" fill="#ff0000"/>
<circle cx="494.59" cy="181.80" r="2.4" fill="#ff0000"/>
<circle cx="500.88" cy="176.30" r="2.4" fill="#ff0000"/>
<circle cx="507.18" cy="166.30" r="2.4" fill="#ff0000"/>
<circle cx="513.47" cy="142.30" r="2.4" fill="#ff0000"/>
<circle cx="519.76" cy="103.50" r="2.4" fill="#ff0000"/>
<circle cx="526.06" cy="99.00" r="2.4" fill="#ff0000"/>
<circle cx="532.36" cy="148.80" r="2.4" fill="#ff0000"/>
<circle cx="538.65" cy="191.30" r="2.4" fill="#ff0000"/>
<circle cx="544.95" cy="197.30" r="2.4" fill="#ff0000"/>
<circle cx="551.24" cy="192.00" r="2.4" fill="#ff0000"/>
<circle cx="557.53" cy="205.30" r="2.4" fill="#ff0000"/>
<circle cx="563.83" cy="203.30" r="2.4" fill="#ff0000"/>
<circle cx="570.12" cy="206.30" r="2.4" fill="#ff0000"/>
<circle cx="576.42" cy="201.30" r="2.4" fill="#ff0000"/>
<circle cx="582.72" cy="209.30" r="2.4" fill="#ff0000"/>
<circle cx="589.01" cy="209.30" r="2.4" fill="#ff0000"/>
<circle cx="595.31" cy="208.30" r="2.4" fill="#ff0000"/>
<path d="M349.80 209.30 L356.10 206.30 L362.39 209.30 L368.69 209.30 L374.98 205.30 L381.28 200.30 L387.57 197.80 L393.87 193.30 L400.16 198.30 L406.46 188.30 L412.75 189.30 L419.05 186.80 L425.34 188.30 L431.63 195.30 L437.93 207.30 L444.23 202.80 L450.52 209.30 L456.81 201.30 L463.11 199.30 L469.41 196.30 L475.70 193.30 L482.00 185.30 L488.29 171.30 L494.59 155.80 L500.88 157.30 L507.18 149.30 L513.47 120.30 L519.76 87.70 L526.06 116.60 L532.36 149.30 L538.65 185.30 L544.95 201.60 L551.24 202.30 L557.53 199.30 L563.83 209.60 L570.12 206.60 L576.42 210.30 L582.72 208.30 L589.01 202.80 L595.31 210.30" fill="none" stroke="#7a7ae6" stroke-width="0.55"/>
<path d="M349.80 206.80L352.80 211.80L346.80 211.80Z" fill="#0000ff"/>
<path d="M356.10 203.80L359.10 208.80L353.10 208.80Z" fill="#0000ff"/>
<path d="M362.39 206.80L365.39 211.80L359.39 211.80Z" fill="#0000ff"/>
<path d="M368.69 206.80L371.69 211.80L365.69 211.80Z" fill="#0000ff"/>
<path d="M374.98 202.80L377.98 207.80L371.98 207.80Z" fill="#0000ff"/>
<path d="M381.28 197.80L384.28 202.80L378.28 202.80Z" fill="#0000ff"/>
<path d="M387.57 195.30L390.57 200.30L384.57 200.30Z" fill="#0000ff"/>
<path d="M393.87 190.80L396.87 195.80L390.87 195.80Z" fill="#0000ff"/>
<path d="M400.16 195.80L403.16 200.80L397.16 200.80Z" fill="#0000ff"/>
<path d="M406.46 185.80L409.46 190.80L403.46 190.80Z" fill="#0000ff"/>
<path d="M412.75 186.80L415.75 191.80L409.75 191.80Z" fill="#0000ff"/>
<path d="M419.05 184.30L422.05 189.30L416.05 189.30Z" fill="#0000ff"/>
<path d="M425.34 185.80L428.34 190.80L422.34 190.80Z" fill="#0000ff"/>
<path d="M431.63 192.80L434.63 197.80L428.63 197.80Z" fill="#0000ff"/>
<path d="M437.93 204.80L440.93 209.80L434.93 209.80Z" fill="#0000ff"/>
<path d="M444.23 200.30L447.23 205.30L441.23 205.30Z" fill="#0000ff"/>
<path d="M450.52 206.80L453.52 211.80L447.52 211.80Z" fill="#0000ff"/>
<path d="M456.81 198.80L459.81 203.80L453.81 203.80Z" fill="#0000ff"/>
<path d="M463.11 196.80L466.11 201.80L460.11 201.80Z" fill="#0000ff"/>
<path d="M469.41 193.80L472.41 198.80L466.41 198.80Z" fill="#0000ff"/>
<path d="M475.70 190.80L478.70 195.80L472.70 195.80Z" fill="#0000ff"/>
<path d="M482.00 182.80L485.00 187.80L479.00 187.80Z" fill="#0000ff"/>
<path d="M488.29 168.80L491.29 173.80L485.29 173.80Z" fill="#0000ff"/>
<path d="M494.59 153.30L497.59 158.30L491.59 158.30Z" fill="#0000ff"/>
<path d="M500.88 154.80L503.88 159.80L497.88 159.80Z" fill="#0000ff"/>
<path d="M507.18 146.80L510.18 151.80L504.18 151.80Z" fill="#0000ff"/>
<path d="M513.47 117.80L516.47 122.80L510.47 122.80Z" fill="#0000ff"/>
<path d="M519.76 85.20L522.76 90.20L516.76 90.20Z" fill="#0000ff"/>
<path d="M526.06 114.10L529.06 119.10L523.06 119.10Z" fill="#0000ff"/>
<path d="M532.36 146.80L535.36 151.80L529.36 151.80Z" fill="#0000ff"/>
<path d="M538.65 182.80L541.65 187.80L535.65 187.80Z" fill="#0000ff"/>
<path d="M544.95 199.10L547.95 204.10L541.95 204.10Z" fill="#0000ff"/>
<path d="M551.24 199.80L554.24 204.80L548.24 204.80Z" fill="#0000ff"/>
<path d="M557.53 196.80L560.53 201.80L554.53 201.80Z" fill="#0000ff"/>
<path d="M563.83 207.10L566.83 212.10L560.83 212.10Z" fill="#0000ff"/>
<path d="M570.12 204.10L573.12 209.10L567.12 209.10Z" fill="#0000ff"/>
<path d="M576.42 207.80L579.42 212.80L573.42 212.80Z" fill="#0000ff"/>
<path d="M582.72 205.80L585.72 210.80L579.72 210.80Z" fill="#0000ff"/>
<path d="M589.01 200.30L592.01 205.30L586.01 205.30Z" fill="#0000ff"/>
<path d="M595.31 207.80L598.31 212.80L592.31 212.80Z" fill="#0000ff"/>
<path d="M345.70 208.30 L349.90 210.30 L354.09 208.30 L358.29 210.80 L362.49 208.80 L366.68 210.30 L370.88 208.30 L375.08 209.80 L379.27 210.80 L383.47 209.30 L387.67 204.80 L391.86 205.80 L396.06 208.30 L400.26 205.80 L404.45 202.20 L408.65 196.80 L412.85 196.10 L417.04 190.80 L421.24 196.20 L425.44 193.00 L429.63 202.60 L433.83 202.60 L438.03 202.80 L442.22 209.10 L446.42 209.60 L450.62 208.10 L454.81 208.60 L459.01 210.60 L463.21 203.70 L467.40 202.70 L471.60 202.70 L475.80 203.20 L479.99 200.20 L484.19 197.70 L488.39 194.80 L492.58 191.80 L496.78 183.80 L500.98 176.80 L505.17 170.30 L509.37 146.10 L513.57 130.80 L517.76 86.20 L521.96 45.70 L526.16 22.70 L530.35 39.50 L534.55 118.20 L538.75 161.80 L542.94 184.80 L547.14 191.30 L551.34 194.30 L555.53 192.20 L559.73 200.70 L563.93 206.30 L568.12 200.00 L572.32 204.60 L576.52 206.80 L580.71 208.10 L584.91 208.60 L589.11 207.10 L593.30 203.40 L597.50 206.80" fill="none" stroke="#f07af0" stroke-width="0.55"/>
<path d="M342.70 205.80L348.70 205.80L345.70 210.80Z" fill="#ff00ff"/>
<path d="M346.90 207.80L352.90 207.80L349.90 212.80Z" fill="#ff00ff"/>
<path d="M351.09 205.80L357.09 205.80L354.09 210.80Z" fill="#ff00ff"/>
<path d="M355.29 208.30L361.29 208.30L358.29 213.30Z" fill="#ff00ff"/>
<path d="M359.49 206.30L365.49 206.30L362.49 211.30Z" fill="#ff00ff"/>
<path d="M363.68 207.80L369.68 207.80L366.68 212.80Z" fill="#ff00ff"/>
<path d="M367.88 205.80L373.88 205.80L370.88 210.80Z" fill="#ff00ff"/>
<path d="M372.08 207.30L378.08 207.30L375.08 212.30Z" fill="#ff00ff"/>
<path d="M376.27 208.30L382.27 208.30L379.27 213.30Z" fill="#ff00ff"/>
<path d="M380.47 206.80L386.47 206.80L383.47 211.80Z" fill="#ff00ff"/>
<path d="M384.67 202.30L390.67 202.30L387.67 207.30Z" fill="#ff00ff"/>
<path d="M388.86 203.30L394.86 203.30L391.86 208.30Z" fill="#ff00ff"/>
<path d="M393.06 205.80L399.06 205.80L396.06 210.80Z" fill="#ff00ff"/>
<path d="M397.26 203.30L403.26 203.30L400.26 208.30Z" fill="#ff00ff"/>
<path d="M401.45 199.70L407.45 199.70L404.45 204.70Z" fill="#ff00ff"/>
<path d="M405.65 194.30L411.65 194.30L408.65 199.30Z" fill="#ff00ff"/>
<path d="M409.85 193.60L415.85 193.60L412.85 198.60Z" fill="#ff00ff"/>
<path d="M414.04 188.30L420.04 188.30L417.04 193.30Z" fill="#ff00ff"/>
<path d="M418.24 193.70L424.24 193.70L421.24 198.70Z" fill="#ff00ff"/>
<path d="M422.44 190.50L428.44 190.50L425.44 195.50Z" fill="#ff00ff"/>
<path d="M426.63 200.10L432.63 200.10L429.63 205.10Z" fill="#ff00ff"/>
<path d="M430.83 200.10L436.83 200.10L433.83 205.10Z" fill="#ff00ff"/>
<path d="M435.03 200.30L441.03 200.30L438.03 205.30Z" fill="#ff00ff"/>
<path d="M439.22 206.60L445.22 206.60L442.22 211.60Z" fill="#ff00ff"/>
<path d="M443.42 207.10L449.42 207.10L446.42 212.10Z" fill="#ff00ff"/>
<path d="M447.62 205.60L453.62 205.60L450.62 210.60Z" fill="#ff00ff"/>
<path d="M451.81 206.10L457.81 206.10L454.81 211.10Z" fill="#ff00ff"/>
<path d="M456.01 208.10L462.01 208.10L459.01 213.10Z" fill="#ff00ff"/>
<path d="M460.21 201.20L466.21 201.20L463.21 206.20Z" fill="#ff00ff"/>
<path d="M464.40 200.20L470.40 200.20L467.40 205.20Z" fill="#ff00ff"/>
<path d="M468.60 200.20L474.60 200.20L471.60 205.20Z" fill="#ff00ff"/>
<path d="M472.80 200.70L478.80 200.70L475.80 205.70Z" fill="#ff00ff"/>
<path d="M476.99 197.70L482.99 197.70L479.99 202.70Z" fill="#ff00ff"/>
<path d="M481.19 195.20L487.19 195.20L484.19 200.20Z" fill="#ff00ff"/>
<path d="M485.39 192.30L491.39 192.30L488.39 197.30Z" fill="#ff00ff"/>
<path d="M489.58 189.30L495.58 189.30L492.58 194.30Z" fill="#ff00ff"/>
<path d="M493.78 181.30L499.78 181.30L496.78 186.30Z" fill="#ff00ff"/>
<path d="M497.98 174.30L503.98 174.30L500.98 179.30Z" fill="#ff00ff"/>
<path d="M502.17 167.80L508.17 167.80L505.17 172.80Z" fill="#ff00ff"/>
<path d="M506.37 143.60L512.37 143.60L509.37 148.60Z" fill="#ff00ff"/>
<path d="M510.57 128.30L516.57 128.30L513.57 133.30Z" fill="#ff00ff"/>
<path d="M514.76 83.70L520.76 83.70L517.76 88.70Z" fill="#ff00ff"/>
<path d="M518.96 43.20L524.96 43.20L521.96 48.20Z" fill="#ff00ff"/>
<path d="M523.16 20.20L529.16 20.20L526.16 25.20Z" fill="#ff00ff"/>
<path d="M527.35 37.00L533.35 37.00L530.35 42.00Z" fill="#ff00ff"/>
<path d="M531.55 115.70L537.55 115.70L534.55 120.70Z" fill="#ff00ff"/>
<path d="M535.75 159.30L541.75 159.30L538.75 164.30Z" fill="#ff00ff"/>
<path d="M539.94 182.30L545.94 182.30L542.94 187.30Z" fill="#ff00ff"/>
<path d="M544.14 188.80L550.14 188.80L547.14 193.80Z" fill="#ff00ff"/>
<path d="M548.34 191.80L554.34 191.80L551.34 196.80Z" fill="#ff00ff"/>
<path d="M552.53 189.70L558.53 189.70L555.53 194.70Z" fill="#ff00ff"/>
<path d="M556.73 198.20L562.73 198.20L559.73 203.20Z" fill="#ff00ff"/>
<path d="M560.93 203.80L566.93 203.80L563.93 208.80Z" fill="#ff00ff"/>
<path d="M565.12 197.50L571.12 197.50L568.12 202.50Z" fill="#ff00ff"/>
<path d="M569.32 202.10L575.32 202.10L572.32 207.10Z" fill="#ff00ff"/>
<path d="M573.52 204.30L579.52 204.30L576.52 209.30Z" fill="#ff00ff"/>
<path d="M577.71 205.60L583.71 205.60L580.71 210.60Z" fill="#ff00ff"/>
<path d="M581.91 206.10L587.91 206.10L584.91 211.10Z" fill="#ff00ff"/>
<path d="M586.11 204.60L592.11 204.60L589.11 209.60Z" fill="#ff00ff"/>
<path d="M590.30 200.90L596.30 200.90L593.30 205.90Z" fill="#ff00ff"/>
<path d="M594.50 204.30L600.50 204.30L597.50 209.30Z" fill="#ff00ff"/></g>
<text transform="translate(37.00,24.00) scale(1,1.12)" font-size="12" stroke="#333" stroke-width="0.18" fill="#222">(a)</text>
<text transform="translate(351.00,26.00) scale(1,1.12)" font-size="12" stroke="#333" stroke-width="0.18" fill="#222">(b)</text>
<text transform="translate(107.10,125.40) rotate(-90) scale(1,1.03)" font-size="9.5" stroke="#333" stroke-width="0.18" fill="#222">006(Bi2201)</text>
<text transform="translate(172.50,82.20) rotate(-90) scale(1,1.03)" font-size="9.5" stroke="#333" stroke-width="0.18" fill="#222">008(Bi2212)</text>
<text transform="translate(420.80,142.60) rotate(-90) scale(1,1.03)" font-size="9.7" stroke="#333" stroke-width="0.18" fill="#222">006(Bi2201)</text>
<text transform="translate(483.70,85.60) rotate(-90) scale(1,1.03)" font-size="9.5" stroke="#333" stroke-width="0.18" fill="#222">008(Bi2212)</text>
<line x1="103.5" y1="129.4" x2="103.5" y2="152.4" stroke="#444" stroke-width="0.7"/><path d="M101.9 151.4L105.1 151.4L103.5 156.4Z" fill="#222"/>
<line x1="175.4" y1="68.1" x2="193.7" y2="68.1" stroke="#444" stroke-width="0.7"/><path d="M192.7 66.5L192.7 69.69999999999999L197.7 68.1Z" fill="#222"/>
<line x1="416.8" y1="146.1" x2="416.8" y2="169" stroke="#444" stroke-width="0.7"/><path d="M415.2 168L418.40000000000003 168L416.8 173Z" fill="#222"/>
<line x1="485.8" y1="70.4" x2="505.1" y2="70.4" stroke="#444" stroke-width="0.7"/><path d="M504.1 68.80000000000001L504.1 72.0L509.1 70.4Z" fill="#222"/>
<rect x="237.2" y="6.4" width="45.00" height="48.90" fill="#fff" stroke="none"/>
<line x1="237.20" y1="6.40" x2="237.20" y2="55.30" stroke="#9a9a9a" stroke-width="1"/>
<line x1="237.20" y1="55.30" x2="282.20" y2="55.30" stroke="#7a7a7a" stroke-width="1.1"/>
<line x1="241.70" y1="14.40" x2="263.70" y2="14.40" stroke="#505050" stroke-width="0.8"/>
<rect x="250.65" y="12.35" width="4.1" height="4.1" fill="#000000"/>
<text transform="translate(266.40,17.60) scale(1,1.1)" font-size="9" stroke="#333" stroke-width="0.18" fill="#222">II-1</text>
<line x1="241.70" y1="26.10" x2="263.70" y2="26.10" stroke="#f26a6a" stroke-width="0.8"/>
<circle cx="252.70" cy="26.10" r="2.4" fill="#ff0000"/>
<text transform="translate(266.40,29.30) scale(1,1.1)" font-size="9" stroke="#333" stroke-width="0.18" fill="#222">II-2</text>
<line x1="241.70" y1="37.90" x2="263.70" y2="37.90" stroke="#7a7ae6" stroke-width="0.8"/>
<path d="M252.70 35.40L255.70 40.40L249.70 40.40Z" fill="#0000ff"/>
<text transform="translate(266.40,41.10) scale(1,1.1)" font-size="9" stroke="#333" stroke-width="0.18" fill="#222">II-3</text>
<line x1="241.70" y1="49.60" x2="263.70" y2="49.60" stroke="#f07af0" stroke-width="0.8"/>
<path d="M249.70 47.10L255.70 47.10L252.70 52.10Z" fill="#ff00ff"/>
<text transform="translate(266.40,52.80) scale(1,1.1)" font-size="9" stroke="#333" stroke-width="0.18" fill="#222">II-4</text>
<rect x="553.5" y="6.4" width="44.00" height="50.90" fill="#fff" stroke="none"/>
<line x1="553.50" y1="6.40" x2="553.50" y2="57.30" stroke="#9a9a9a" stroke-width="1"/>
<line x1="553.50" y1="57.30" x2="597.50" y2="57.30" stroke="#7a7a7a" stroke-width="1.1"/>
<line x1="557.00" y1="16.90" x2="579.00" y2="16.90" stroke="#7a7ae6" stroke-width="0.8"/>
<path d="M568.00 14.40L571.00 19.40L565.00 19.40Z" fill="#0000ff"/>
<text transform="translate(581.70,20.10) scale(1,1.1)" font-size="9" stroke="#333" stroke-width="0.18" fill="#222">II-3</text>
<line x1="557.00" y1="28.70" x2="579.00" y2="28.70" stroke="#f07af0" stroke-width="0.8"/>
<path d="M565.00 26.20L571.00 26.20L568.00 31.20Z" fill="#ff00ff"/>
<text transform="translate(581.70,31.90) scale(1,1.1)" font-size="9" stroke="#333" stroke-width="0.18" fill="#222">II-4</text>
<line x1="557.00" y1="40.40" x2="579.00" y2="40.40" stroke="#505050" stroke-width="0.8"/>
<rect x="565.95" y="38.35" width="4.1" height="4.1" fill="#000000"/>
<text transform="translate(581.70,43.60) scale(1,1.1)" font-size="9" stroke="#333" stroke-width="0.18" fill="#222">II-5</text>
<line x1="557.00" y1="52.10" x2="579.00" y2="52.10" stroke="#f26a6a" stroke-width="0.8"/>
<circle cx="568.00" cy="52.10" r="2.4" fill="#ff0000"/>
<text transform="translate(581.70,55.30) scale(1,1.1)" font-size="9" stroke="#333" stroke-width="0.18" fill="#222">II-6</text>
<path d="M30.40 6.55L282.45 6.55M282.45 5.95L282.45 60" fill="none" stroke="#4a4a4a" stroke-width="1.2"/>
<path d="M345.70 6.55L598.00 6.55" fill="none" stroke="#4a4a4a" stroke-width="1.2"/>
<path d="M598.00 5.95L598.00 62" fill="none" stroke="#707070" stroke-width="1.8"/>
</svg>
</body></html>
